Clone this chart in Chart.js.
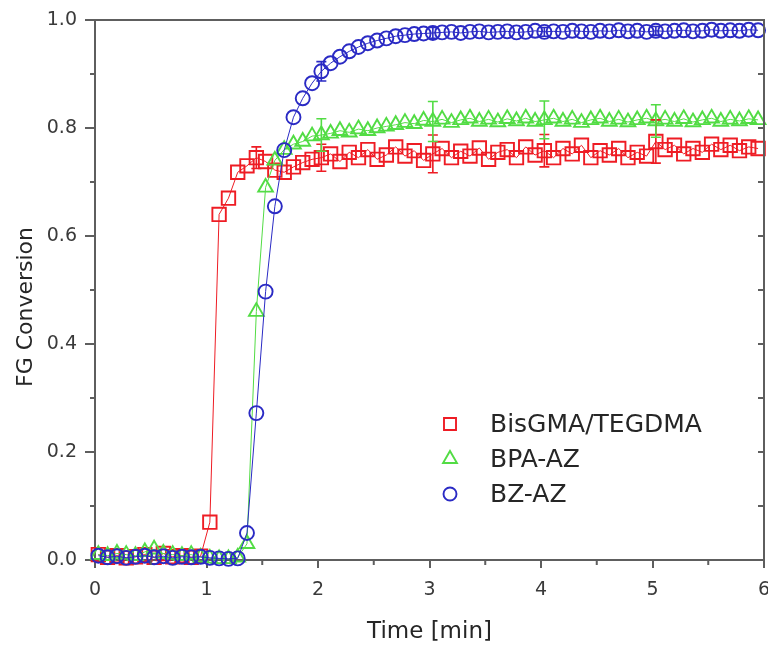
<!DOCTYPE html>
<html><head><meta charset="utf-8">
<script src="https://cdn.jsdelivr.net/npm/chart.js@4.4.0/dist/chart.umd.min.js"></script>
<style>html,body{margin:0;padding:0;background:#fff}#wrap{width:768px;height:648px}</style>
</head><body><div id="wrap"><canvas id="c" width="768" height="648"></canvas></div>
<script>
// Sample times [min]
const times = [0.03,0.113,0.197,0.28,0.363,0.447,0.53,0.613,0.697,0.78,0.863,0.947,
1.03,1.113,1.197,1.28,1.363,1.447,1.53,1.613,1.697,1.78,1.863,1.947,
2.03,2.113,2.197,2.28,2.363,2.447,2.53,2.613,2.697,2.78,2.863,2.947,
3.03,3.113,3.197,3.28,3.363,3.447,3.53,3.613,3.697,3.78,3.863,3.947,
4.03,4.113,4.197,4.28,4.363,4.447,4.53,4.613,4.697,4.78,4.863,4.947,
5.03,5.113,5.197,5.28,5.363,5.447,5.53,5.613,5.697,5.78,5.863,5.947];
const seriesNames = ['BisGMA/TEGDMA','BPA-AZ','BZ-AZ'];
const redValues = [0.010,0.005,0.008,0.004,0.006,0.010,0.005,0.012,0.006,0.008,0.005,0.007,
0.070,0.640,0.670,0.718,0.730,0.745,0.738,0.722,0.718,0.728,0.736,0.742,
0.745,0.752,0.738,0.755,0.745,0.760,0.742,0.750,0.765,0.748,0.758,0.740,
0.752,0.762,0.745,0.757,0.748,0.763,0.742,0.755,0.760,0.745,0.765,0.750,
0.758,0.745,0.762,0.752,0.768,0.745,0.758,0.750,0.762,0.745,0.755,0.748,
0.775,0.760,0.768,0.752,0.762,0.755,0.770,0.760,0.768,0.758,0.765,0.762];
const greenValues = [0.010,0.008,0.012,0.010,0.008,0.015,0.020,0.012,0.010,0.008,0.010,0.005,
0.003,0.002,0.002,0.005,0.030,0.460,0.690,0.740,0.760,0.770,0.775,0.785,
0.787,0.790,0.795,0.792,0.798,0.795,0.800,0.803,0.806,0.810,0.808,0.814,
0.812,0.816,0.810,0.815,0.818,0.812,0.816,0.811,0.817,0.813,0.818,0.812,
0.815,0.818,0.812,0.816,0.810,0.815,0.818,0.812,0.816,0.811,0.815,0.818,
0.813,0.816,0.812,0.817,0.811,0.815,0.818,0.812,0.816,0.813,0.817,0.815];
const blueValues = [0.008,0.005,0.007,0.004,0.006,0.008,0.005,0.007,0.004,0.006,0.005,0.006,
0.004,0.003,0.002,0.003,0.050,0.272,0.497,0.655,0.759,0.820,0.855,0.883,
0.905,0.920,0.932,0.942,0.950,0.957,0.962,0.966,0.970,0.972,0.974,0.975,
0.976,0.977,0.978,0.976,0.978,0.979,0.977,0.978,0.979,0.977,0.978,0.980,
0.978,0.979,0.978,0.980,0.979,0.978,0.980,0.979,0.981,0.979,0.980,0.978,
0.980,0.979,0.980,0.981,0.979,0.980,0.982,0.980,0.981,0.980,0.982,0.981];
// Error bars: index into times, and +/- half-width
const redErrIdx = [17,24,36,48,60];
const redErr = [0.020,0.025,0.035,0.030,0.040];
const greenErrIdx = [24,36,48,60];
const greenErr = [0.030,0.037,0.035,0.030];
const blueErrIdx = [24,36,48,60];
const blueErr = [0.018,0.010,0.008,0.008];
const xTickLabels = [0,1,2,3,4,5,6];
const yTickLabels = [0.0,0.2,0.4,0.6,0.8,1.0];
const xTitle = 'Time [min]';
const yTitle = 'FG Conversion';

const COLORS = ['#ee1c24','#52dc44','#2a2ac4'];
const STYLES = ['rect','triangle','circle'];
const RADII = [9.5,8.5,7];
const FONT = '"DejaVu Sans", "Liberation Sans", Arial, sans-serif';

function pts(vals){ return vals.map((v,i)=>({x:times[i], y:v})); }
const allValues = [redValues, greenValues, blueValues];
const errIdx = [redErrIdx, greenErrIdx, blueErrIdx];
const errVal = [redErr, greenErr, blueErr];

const datasets = allValues.map((vals,k)=>({
  label: seriesNames[k],
  data: pts(vals),
  borderColor: COLORS[k],
  borderWidth: 1,
  pointStyle: STYLES[k],
  pointRadius: RADII[k],
  pointBorderWidth: 1.9,
  pointBorderColor: COLORS[k],
  pointBackgroundColor: 'rgba(255,255,255,0)',
  fill: false,
  tension: 0,
  clip: false,
  order: 3-k
}));

function drawMarker(ctx, style, x, y, r){
  ctx.beginPath();
  if(style==='circle'){ ctx.arc(x,y,r,0,Math.PI*2); }
  else if(style==='rect'){ const s=r*Math.SQRT1_2; ctx.rect(x-s,y-s,2*s,2*s); }
  else {
    ctx.moveTo(x, y - r);
    ctx.lineTo(x + r*0.866, y + r*0.5);
    ctx.lineTo(x - r*0.866, y + r*0.5);
    ctx.closePath();
  }
  ctx.stroke();
}

const extras = {
  id:'extras',
  afterDatasetsDraw(chart){
    const {ctx, scales:{x,y}} = chart;
    ctx.save();
    errIdx.forEach((idxs,k)=>{
      ctx.strokeStyle = COLORS[k];
      ctx.lineWidth = 1.6;
      idxs.forEach((i,j)=>{
        const px = x.getPixelForValue(times[i]);
        const v = allValues[k][i], e = errVal[k][j];
        const y1 = y.getPixelForValue(v+e), y2 = y.getPixelForValue(v-e);
        ctx.beginPath();
        ctx.moveTo(px,y1); ctx.lineTo(px,y2);
        ctx.moveTo(px-5,y1); ctx.lineTo(px+5,y1);
        ctx.moveTo(px-5,y2); ctx.lineTo(px+5,y2);
        ctx.stroke();
      });
    });
    ctx.restore();
  },
  afterDraw(chart){
    const {ctx, chartArea:a, scales:{x,y}} = chart;
    ctx.save();
    ctx.strokeStyle = '#5e5e5e';
    ctx.lineWidth = 2;
    ctx.beginPath();
    ctx.moveTo(a.left-1, a.top); ctx.lineTo(a.right, a.top); ctx.lineTo(a.right, a.bottom+1);
    ctx.stroke();
    ctx.beginPath();
    for(let k=1;k<10;k++){
      const py = y.getPixelForValue(k/10);
      if(k%2===1){ ctx.moveTo(a.left-5, py); ctx.lineTo(a.left, py); }
      ctx.moveTo(a.right-6, py); ctx.lineTo(a.right, py);
    }
    for(let k=0;k<6;k++){
      const px = x.getPixelForValue(k+0.5);
      ctx.moveTo(px, a.bottom); ctx.lineTo(px, a.bottom+5);
    }
    ctx.stroke();
    // y axis title
    ctx.fillStyle = '#262626';
    ctx.font = '22px ' + FONT;
    ctx.textAlign = 'center';
    ctx.textBaseline = 'middle';
    ctx.translate(26, (a.top + a.bottom)/2 + 17);
    ctx.rotate(-Math.PI/2);
    ctx.fillText(yTitle, 0, 0);
    ctx.setTransform(1,0,0,1,0,0);
    // legend
    const lx = a.left + 355, ly0 = a.top + 404, dy = 35;
    seriesNames.forEach((name,k)=>{
      const yy = ly0 + k*dy;
      ctx.strokeStyle = COLORS[k];
      ctx.lineWidth = 1.9;
      drawMarker(ctx, STYLES[k], lx, yy, k===0?8.5:(k===1?8:6.5));
      ctx.fillStyle = '#262626';
      ctx.font = '25px ' + FONT;
      ctx.textBaseline = 'middle';
      ctx.textAlign = 'left';
      ctx.fillText(name, lx + 40, yy + 1);
    });
    ctx.restore();
  }
};

new Chart(document.getElementById('c'), {
  type: 'line',
  data: { datasets },
  options: {
    responsive: false,
    animation: false,
    devicePixelRatio: 1,
    layout: { autoPadding: false, padding: { left: 0, right: 4, top: 20, bottom: 0 } },
    plugins: { legend: { display: false }, tooltip: { enabled: false } },
    scales: {
      x: {
        type: 'linear', min: 0, max: 6,
        afterBuildTicks(s){ s.ticks = xTickLabels.map(v=>({value:v})); },
        afterFit(s){ s.height = 88; s.paddingLeft = 0; s.paddingRight = 0; },
        ticks: { color:'#3a3a3a', font:{family:FONT, size:19}, padding: 11, maxRotation:0,
                 callback:(v)=>String(v) },
        grid: { display:true, drawOnChartArea:false, drawTicks:true, tickLength:8, tickColor:'#5e5e5e', lineWidth:2 },
        border: { display:true, color:'#5e5e5e', width:2 },
        title: { display:true, text:xTitle, color:'#262626', font:{family:FONT, size:23}, padding:{top:0,bottom:2} }
      },
      y: {
        type: 'linear', min: 0, max: 1,
        afterBuildTicks(s){ s.ticks = yTickLabels.map(v=>({value:v})); },
        afterFit(s){ s.width = 95; s.paddingTop = 0; s.paddingBottom = 0; },
        ticks: { color:'#3a3a3a', font:{family:FONT, size:19}, padding: 8,
                 callback:(v)=>Number(v).toFixed(1) },
        grid: { display:true, drawOnChartArea:false, drawTicks:true, tickLength:10, tickColor:'#5e5e5e', lineWidth:2 },
        border: { display:true, color:'#5e5e5e', width:2 },
        title: { display:false }
      }
    }
  },
  plugins: [extras]
});
</script>
</body></html>
